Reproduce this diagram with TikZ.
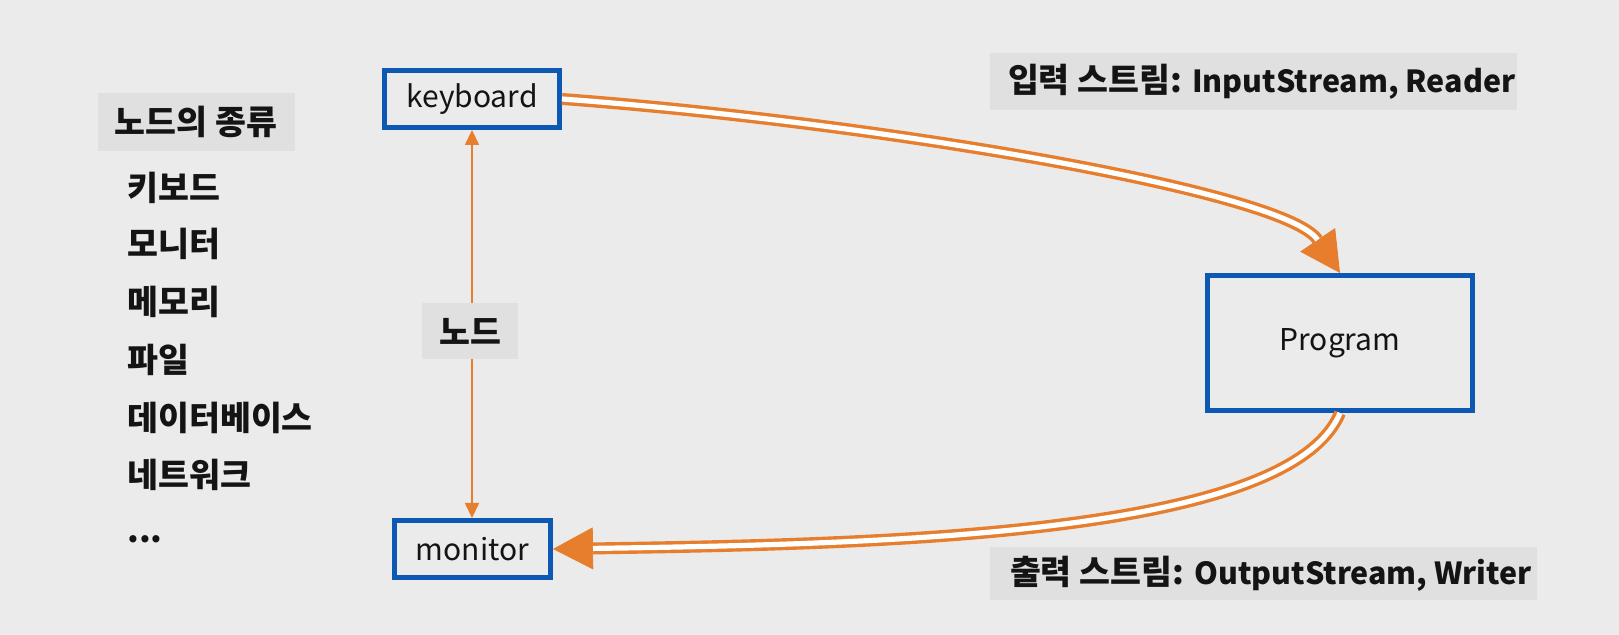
\documentclass[tikz,border=0pt]{standalone}
\usepackage{fontspec}
\setmainfont{Noto Sans CJK KR}
\usetikzlibrary{arrows.meta}
\definecolor{bgc}{RGB}{235,235,235}
\definecolor{lblc}{RGB}{224,224,224}
\definecolor{orng}{RGB}{230,126,45}
\definecolor{blu}{RGB}{12,88,178}
\definecolor{txt}{RGB}{20,20,20}
\newcommand{\krs}{\fontsize{16.8pt}{20pt}\selectfont}
\newcommand{\lts}{\fontsize{15.2pt}{18pt}\selectfont}
\tikzset{
  nodebox/.style={draw=blu, line width=2.5pt, fill=bgc, inner sep=0pt, font=\fontsize{15pt}{18pt}\selectfont, text=txt},
  lbl/.style={fill=lblc, inner sep=0pt, font=\bfseries\krs, text=txt},
  item/.style={anchor=west, inner sep=0pt, font=\bfseries\krs, text=txt, text height=0.8em, text depth=0.2em},
  dbl/.style={draw=orng, line width=1.7pt, double=white, double distance=2.6pt},
  tipline/.style={draw=orng, line width=0.4pt, -{Triangle[length=20pt,width=21pt]}},
  thinarrow/.style={draw=orng, line width=1pt, {Triangle[length=7.5pt,width=7pt]}-{Triangle[length=7.5pt,width=7pt]}}
}
\begin{document}
\begin{tikzpicture}[x=0.5pt,y=-0.5pt]
\fill[bgc] (0,0) rectangle (1619,635);
\useasboundingbox (0,0) rectangle (1619,635);

% boxes
\node[nodebox, minimum width=87.5pt, minimum height=28.5pt] (keyboard) at (472,99) {keyboard};
\node[nodebox, minimum width=78pt, minimum height=28.5pt] (monitor) at (472.5,549) {monitor};
\node[nodebox, minimum width=132.5pt, minimum height=67.5pt] (program) at (1340,343) {Program};

% vertical two-headed arrow
\draw[thinarrow] (keyboard.south) -- (keyboard.south |- monitor.north);

% labels
\node[lbl, minimum width=98.5pt, minimum height=29pt] (kinds) at (196,122) {노드의 종류};
\node[lbl, minimum width=48pt, minimum height=28pt] (nodelbl) at (470,331) {노드};
\node[lbl, minimum height=28.5pt] (instream) at (1253.5,81.5)
  {\hspace*{9pt}\makebox[254.5pt][l]{입력 스트림: {\lts InputStream, Reader}}};
\node[lbl, minimum height=26.5pt] (outstream) at (1263.5,573.5)
  {\hspace*{10pt}\makebox[263.5pt][l]{출력 스트림: {\lts OutputStream, Writer}}};

% list
\node[item] (i1) at (127,195) {키보드};
\node[item] (i2) at (127,251) {모니터};
\node[item] (i3) at (127,309) {메모리};
\node[item] (i4) at (127,367) {파일};
\node[item] (i5) at (127,425) {데이터베이스};
\node[item] (i6) at (127,482) {네트워크};
\node[item] (i7) at (127,537) {...};

% stream connectors
\draw[tipline] (keyboard.east) .. controls +(300,22) and +(-56,-83) .. (program.north);
\draw[dbl, shorten >=20pt] (keyboard.east) .. controls +(300,22) and +(-56,-83) .. (program.north);
\draw[tipline] (program.south) .. controls +(-50,120) and +(350,-5) .. (monitor.east);
\draw[dbl, shorten >=20pt] (program.south) .. controls +(-50,120) and +(350,-5) .. (monitor.east);
\end{tikzpicture}
\end{document}
